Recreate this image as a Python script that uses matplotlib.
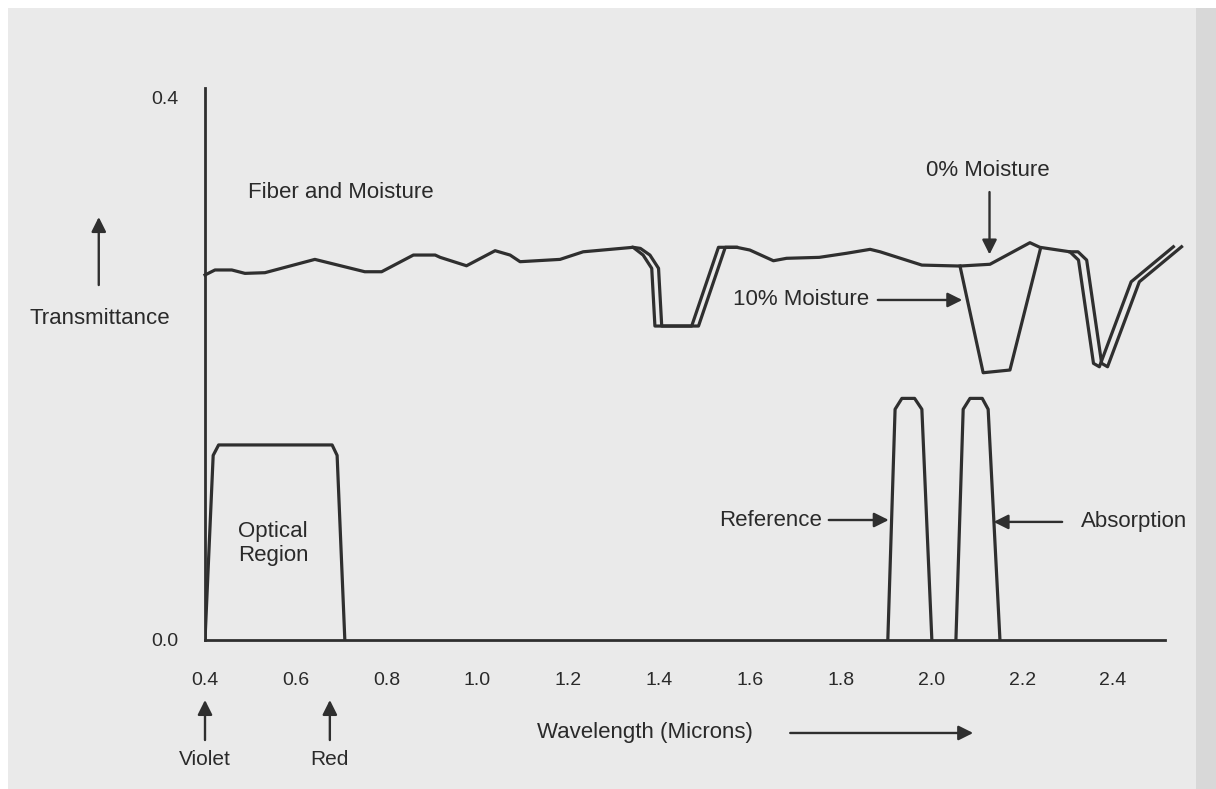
import matplotlib
matplotlib.use('Agg')
import matplotlib.pyplot as plt
from matplotlib.patches import Rectangle

plt.rcParams['font.family'] = ['Liberation Sans', 'DejaVu Sans']

# 纤维+水分透射率曲线 (主线)
fiber_w = [0.40, 0.422, 0.459, 0.488, 0.532, 0.642, 0.752, 0.789, 0.859, 0.907, 0.918,
           0.976, 1.039, 1.072, 1.094, 1.182, 1.233, 1.343, 1.365, 1.384, 1.391, 1.472,
           1.531, 1.571, 1.600, 1.652, 1.681, 1.753, 1.813, 1.865, 1.887, 1.979, 2.063,
           2.129, 2.217, 2.239, 2.305, 2.324, 2.357, 2.370, 2.440, 2.533]
fiber_t = [0.2689, 0.2726, 0.2726, 0.2701, 0.2706, 0.2804, 0.2713, 0.2713, 0.2836, 0.2836, 0.2819,
           0.2757, 0.2868, 0.2836, 0.2787, 0.2804, 0.2860, 0.2893, 0.2836, 0.2738, 0.2313, 0.2313,
           0.2893, 0.2893, 0.2873, 0.2794, 0.2812, 0.2819, 0.2849, 0.2878, 0.2860, 0.2762, 0.2755,
           0.2768, 0.2927, 0.2893, 0.2860, 0.2799, 0.2038, 0.2013, 0.2639, 0.2897]

# 吸收带里的第二条线 (双线效果)
dip1_w = [1.343, 1.359, 1.380, 1.399, 1.406, 1.487, 1.546, 1.571]
dip1_t = [0.2893, 0.2885, 0.2836, 0.2738, 0.2313, 0.2313, 0.2893, 0.2893]
dip3_w = [2.305, 2.323, 2.342, 2.375, 2.388, 2.458, 2.551]
dip3_t = [0.2860, 0.2860, 0.2799, 0.2038, 0.2013, 0.2639, 0.2897]

# 10% 水分
moist_w = [2.063, 2.114, 2.173, 2.240]
moist_t = [0.2755, 0.1969, 0.1989, 0.2880]

# 光学区 / 参考 / 吸收 滤波器
optical_w = [0.400, 0.418, 0.430, 0.680, 0.691, 0.708]
optical_t = [0.0, 0.136, 0.1437, 0.1437, 0.136, 0.0]
ref_w = [1.904, 1.920, 1.935, 1.963, 1.979, 2.001]
ref_t = [0.0, 0.170, 0.178, 0.178, 0.170, 0.0]
abs_w = [2.054, 2.070, 2.085, 2.112, 2.125, 2.151]
abs_t = [0.0, 0.170, 0.178, 0.178, 0.170, 0.0]

xticks = [0.4, 0.6, 0.8, 1.0, 1.2, 1.4, 1.6, 1.8, 2.0, 2.2, 2.4]
xlabels = ['0.4', '0.6', '0.8', '1.0', '1.2', '1.4', '1.6', '1.8', '2.0', '2.2', '2.4']
yticks = [0.0, 0.4]
ylabels = ['0.0', '0.4']

INK = '#2f2f2f'
TXT = '#2a2a2a'

fig = plt.figure(figsize=(12.16, 7.89), dpi=100)
fig.patch.set_facecolor('white')
# 扫描纸张背景
fig.patches.append(Rectangle((8 / 1216, 0), 1188 / 1216, 781 / 789, transform=fig.transFigure,
                             facecolor='#eaeaea', edgecolor='none', zorder=-10))
fig.patches.append(Rectangle((1196 / 1216, 0), 20 / 1216, 781 / 789, transform=fig.transFigure,
                             facecolor='#d8d8d8', edgecolor='none', zorder=-10))

ax = fig.add_axes([205 / 1216, 149 / 789, (1203.8 - 205) / 1216, (640 - 69.9) / 789])
ax.set_facecolor('none')
ax.set_xlim(0.4, 2.6)
ax.set_ylim(0, 0.42)

lw = 2.3
ax.plot(fiber_w, fiber_t, color=INK, lw=lw, solid_joinstyle='round', clip_on=False)
ax.plot(dip1_w, dip1_t, color=INK, lw=lw, solid_joinstyle='round', clip_on=False)
ax.plot(dip3_w, dip3_t, color=INK, lw=lw, solid_joinstyle='round', clip_on=False)
ax.plot(moist_w, moist_t, color=INK, lw=lw, solid_joinstyle='round')
ax.plot(optical_w, optical_t, color=INK, lw=lw, solid_joinstyle='round')
ax.plot(ref_w, ref_t, color=INK, lw=lw, solid_joinstyle='round')
ax.plot(abs_w, abs_t, color=INK, lw=lw, solid_joinstyle='round')

for s in ['top', 'right']:
    ax.spines[s].set_visible(False)
ax.spines['left'].set_bounds(0, 0.407)
ax.spines['bottom'].set_bounds(0.4, 2.515)
for s in ['left', 'bottom']:
    ax.spines[s].set_color(INK)
    ax.spines[s].set_linewidth(2.0)

ax.set_xticks(xticks, xlabels)
ax.set_yticks(yticks, ylabels)
ax.tick_params(axis='x', length=0, pad=23, labelsize=14, labelcolor=TXT)
ax.tick_params(axis='y', length=0, pad=19, labelsize=14, labelcolor=TXT)

fs = 16
ax.text(0.495, 0.330, 'Fiber and Moisture', fontsize=fs, color=TXT, ha='left', va='center')
ax.text(0.55, 0.071, 'Optical\nRegion', fontsize=fs, color=TXT, ha='center', va='center',
        linespacing=1.15)

arrow = dict(arrowstyle='-|>', color=INK, lw=1.7, mutation_scale=22, shrinkA=0, shrinkB=0)

ax.text(2.124, 0.346, '0% Moisture', fontsize=fs, color=TXT, ha='center', va='center')
ax.annotate('', xy=(2.128, 0.284), xytext=(2.128, 0.330), arrowprops=arrow)

ax.text(1.862, 0.2505, '10% Moisture', fontsize=fs, color=TXT, ha='right', va='center')
ax.annotate('', xy=(2.068, 0.2505), xytext=(1.882, 0.2505), arrowprops=arrow)

ax.text(1.758, 0.0884, 'Reference', fontsize=fs, color=TXT, ha='right', va='center')
ax.annotate('', xy=(1.906, 0.0884), xytext=(1.774, 0.0884), arrowprops=arrow)

ax.text(2.330, 0.087, 'Absorption', fontsize=fs, color=TXT, ha='left', va='center')
ax.annotate('', xy=(2.137, 0.087), xytext=(2.288, 0.087), arrowprops=arrow)

# 坐标轴外的标注
ax.text(0.169, 0.237, 'Transmittance', fontsize=fs, color=TXT, ha='center', va='center', clip_on=False)
ax.annotate('', xy=(0.166, 0.3116), xytext=(0.166, 0.2615), arrowprops=arrow, annotation_clip=False)

ax.annotate('', xy=(0.400, -0.0442), xytext=(0.400, -0.0737), arrowprops=arrow, annotation_clip=False)
ax.text(0.400, -0.0884, 'Violet', fontsize=15, color=TXT, ha='center', va='center', clip_on=False)
ax.annotate('', xy=(0.675, -0.0442), xytext=(0.675, -0.0737), arrowprops=arrow, annotation_clip=False)
ax.text(0.675, -0.0884, 'Red', fontsize=15, color=TXT, ha='center', va='center', clip_on=False)

ax.text(1.369, -0.0685, 'Wavelength (Microns)', fontsize=fs, color=TXT, ha='center', va='center', clip_on=False)
ax.annotate('', xy=(2.092, -0.0685), xytext=(1.689, -0.0685), arrowprops=arrow, annotation_clip=False)

fig.savefig('out.png', dpi=100)
